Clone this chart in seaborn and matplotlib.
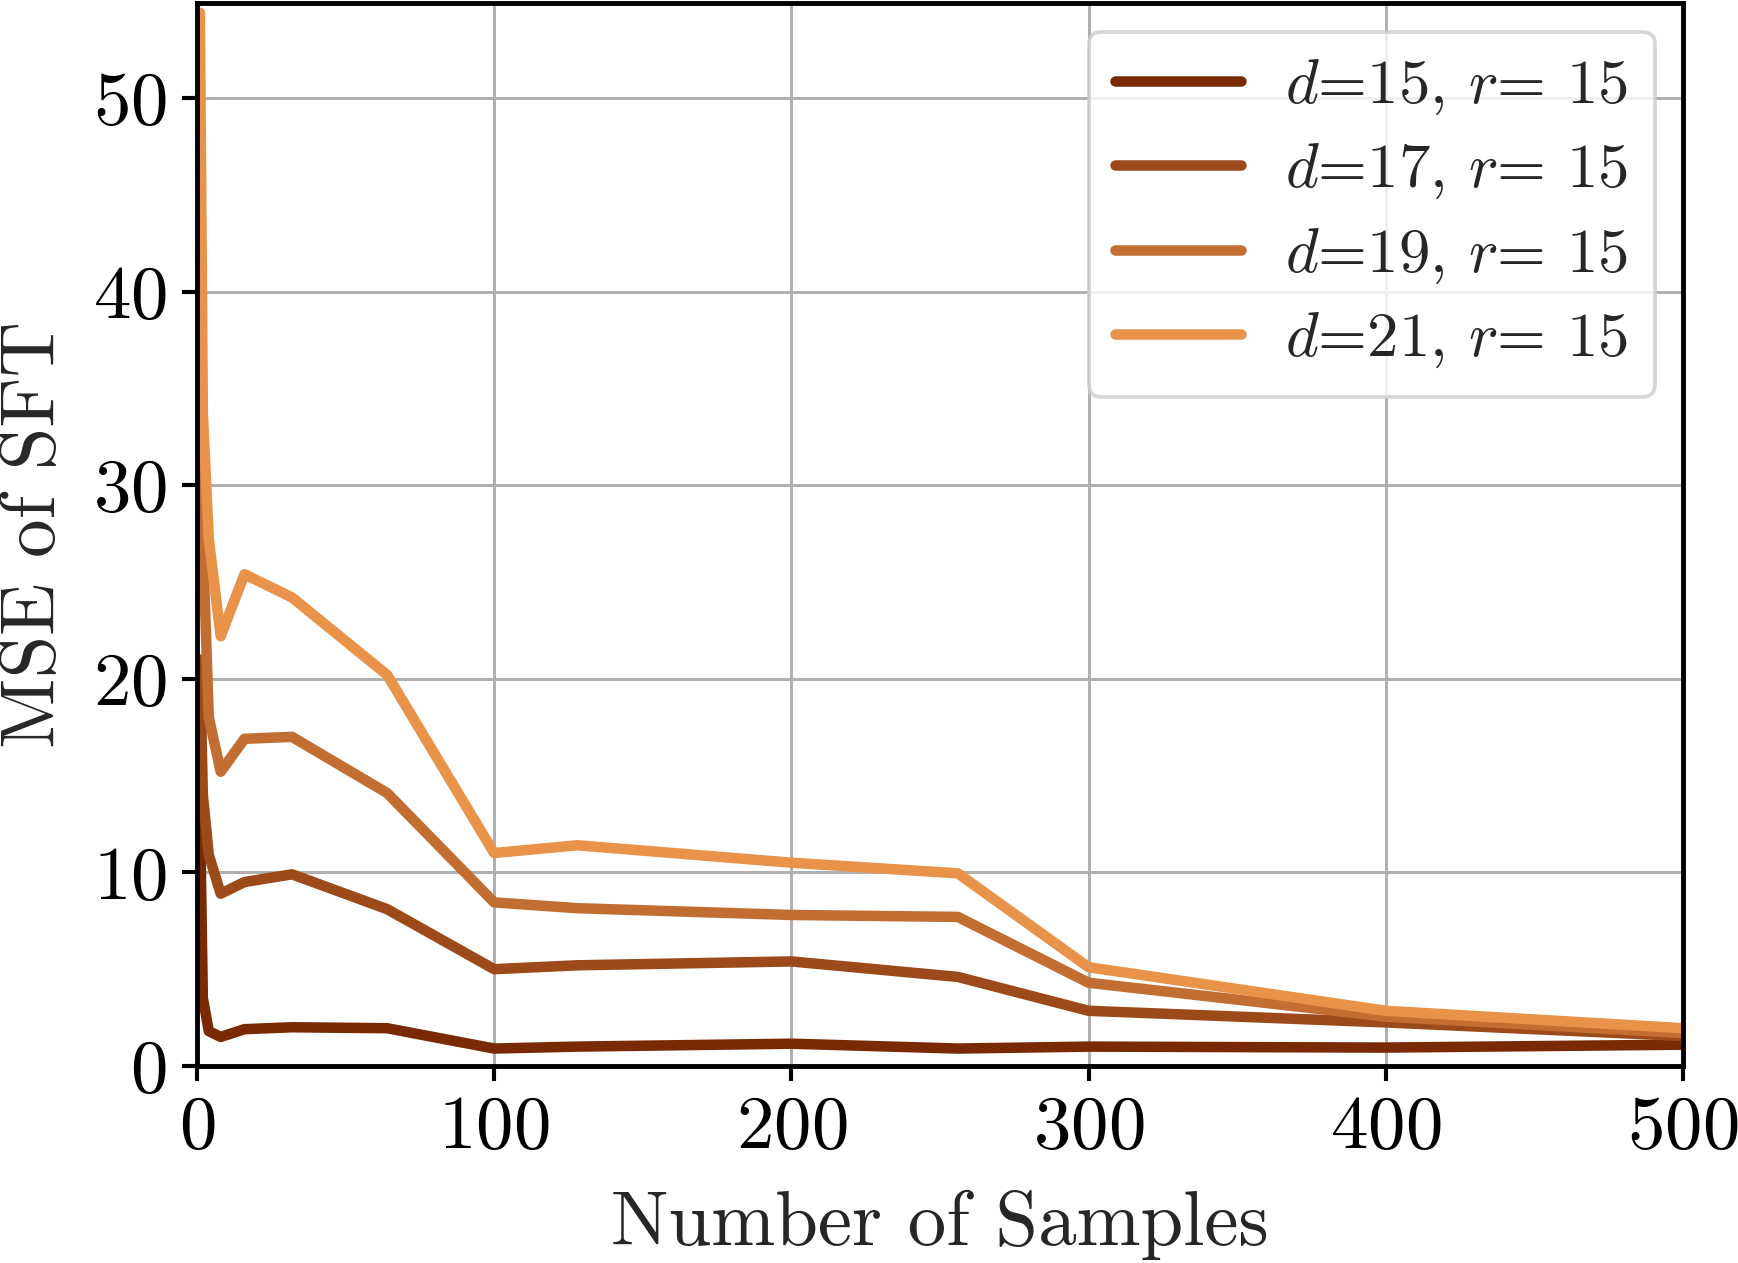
import numpy as np
import pandas as pd
import matplotlib
matplotlib.use("Agg")
import matplotlib.pyplot as plt
import seaborn as sns

samples = [1, 2, 4, 8, 16, 32, 64, 100, 128, 200, 256, 300, 400, 500]
mse_d15 = [13.3, 3.5, 1.8, 1.5, 1.9, 2.0, 1.95, 0.9, 1.0, 1.15, 0.9, 1.0, 0.95, 1.1]
mse_d17 = [21.0, 14.0, 10.9, 8.9, 9.5, 9.9, 8.1, 5.0, 5.2, 5.4, 4.6, 2.85, 2.25, 1.55]
mse_d19 = [34.0, 27.0, 18.0, 15.2, 16.9, 17.0, 14.1, 8.45, 8.15, 7.8, 7.7, 4.3, 2.55, 1.7]
mse_d21 = [54.4, 33.7, 27.2, 22.2, 25.4, 24.2, 20.2, 11.0, 11.4, 10.5, 9.95, 5.1, 2.85, 1.95]
labels = [r"$d$=15, $r$= 15", r"$d$=17, $r$= 15", r"$d$=19, $r$= 15", r"$d$=21, $r$= 15"]
colors = ["#7a2a02", "#9c4a1a", "#c26e32", "#e8924a"]

series = [mse_d15, mse_d17, mse_d19, mse_d21]
df = pd.concat(
    [pd.DataFrame({"samples": samples, "mse": s, "setting": lab}) for s, lab in zip(series, labels)],
    ignore_index=True,
)

sns.set_style("whitegrid")
plt.rcParams.update({
    "font.family": "serif",
    "font.serif": ["cmr10", "DejaVu Serif"],
    "mathtext.fontset": "cm",
    "axes.unicode_minus": False,
    "axes.formatter.use_mathtext": True,
    "axes.edgecolor": "black",
    "axes.linewidth": 1.3,
    "grid.color": "#b0b0b0",
    "grid.linewidth": 0.8,
    "xtick.bottom": True,
    "ytick.left": True,
    "xtick.major.size": 4,
    "ytick.major.size": 4,
    "xtick.major.width": 1.1,
    "ytick.major.width": 1.1,
    "xtick.color": "black",
    "ytick.color": "black",
})

dpi = 270
fig = plt.figure(figsize=(1738 / dpi, 1263 / dpi), dpi=dpi)
ax = fig.add_axes([0.1133, 0.156, 0.8551, 0.8415])

sns.lineplot(data=df, x="samples", y="mse", hue="setting", palette=colors,
             linewidth=2.8, ax=ax, sort=False)

ax.set_xlim(0, 500)
ax.set_ylim(0, 54.9)
ax.set_xticks([0, 100, 200, 300, 400, 500])
ax.set_yticks([0, 10, 20, 30, 40, 50])
ax.tick_params(labelsize=20, pad=4)
ax.set_xlabel("Number of Samples", fontsize=20.5, labelpad=7)
ax.set_ylabel("MSE of SFT", fontsize=20.5, labelpad=6)
for sp in ax.spines.values():
    sp.set_color("black")
    sp.set_linewidth(1.3)

leg = ax.legend(loc="upper right", fontsize=16.8, framealpha=0.8, fancybox=True,
                handlelength=2.0, handletextpad=0.7, borderpad=0.42, labelspacing=0.4,
                borderaxespad=0.45)
leg.get_frame().set_edgecolor("#cccccc")
leg.get_frame().set_linewidth(1.0)
for line in leg.get_lines():
    line.set_linewidth(2.8)

fig.savefig("out.png", dpi=dpi)
